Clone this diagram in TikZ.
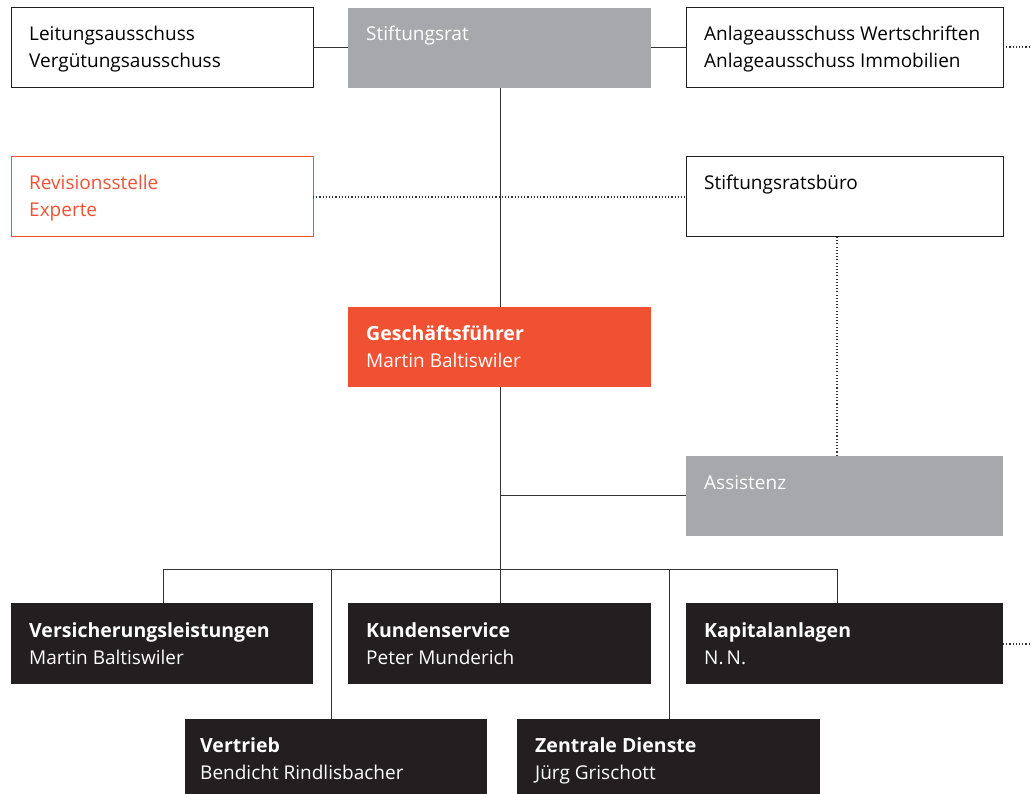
\documentclass[tikz,border=0pt]{standalone}
\usepackage{fontspec}
\setmainfont{Open Sans}
\usetikzlibrary{calc}
\definecolor{orng}{HTML}{F05133}
\definecolor{gry}{HTML}{A7A8AB}
\definecolor{blk}{HTML}{231F20}
\definecolor{lin}{HTML}{333333}
\tikzset{
  box/.style={draw=#1, line width=1pt, anchor=north west, inner sep=0pt, outer sep=0pt},
  fbox/.style={fill=#1, draw=none, anchor=north west, inner sep=0pt, outer sep=0pt},
  txt/.style={anchor=base west, align=left, inner sep=0pt, font=\fontsize{19}{27}\selectfont},
  hd/.style={font=\fontsize{19.5}{27}\selectfont\bfseries},
  conn/.style={draw=lin, line width=1pt},
  dots/.style={draw=lin, line width=1.3pt, dash pattern=on 1.1pt off 2.1pt},
}
\begin{document}
\begin{tikzpicture}[x=1pt,y=-1pt]
\useasboundingbox (0,0) rectangle (1031,794);
% boxes
\node[box=blk, minimum width=302, minimum height=80] (lei) at (11,8) {};
\node[fbox=gry, minimum width=303, minimum height=80] (stf) at (348,8) {};
\node[box=blk, minimum width=317, minimum height=80] (anl) at (686,8) {};
\node[box=orng, minimum width=302, minimum height=80] (rev) at (11,157) {};
\node[box=blk, minimum width=317, minimum height=80] (bur) at (686,157) {};
\node[fbox=orng, minimum width=303, minimum height=80] (gf) at (348,307) {};
\node[fbox=gry, minimum width=317, minimum height=80] (ass) at (686,456) {};
\node[fbox=blk, minimum width=302, minimum height=81] (ver) at (11,603) {};
\node[fbox=blk, minimum width=303, minimum height=81] (kun) at (348,603) {};
\node[fbox=blk, minimum width=317, minimum height=81] (kap) at (686,603) {};
\node[fbox=blk, minimum width=302, minimum height=80] (vtr) at (185,719) {};
\node[fbox=blk, minimum width=303, minimum height=80] (zen) at (517,719) {};
% texts (base anchor = last line baseline)
\node[txt, text=black] (tlei) at ($(lei.north west)+(18,60)$) {Leitungsausschuss\\Vergütungsausschuss};
\node[txt, text=white] (tstf) at ($(stf.north west)+(18,33)$) {Stiftungsrat};
\node[txt, text=black] (tanl) at ($(anl.north west)+(18,60)$) {Anlageausschuss Wertschriften\\Anlageausschuss Immobilien};
\node[txt, text=orng] (trev) at ($(rev.north west)+(18,60)$) {Revisionsstelle\\Experte};
\node[txt, text=black] (tbur) at ($(bur.north west)+(18,33)$) {Stiftungsratsbüro};
\node[txt, text=white] (tgf) at ($(gf.north west)+(18,60)$) {{\fontsize{19.5}{27}\selectfont\bfseries Geschäftsführer}\\Martin Baltiswiler};
\node[txt, text=white] (tass) at ($(ass.north west)+(18,33)$) {Assistenz};
\node[txt, text=white] (tver) at ($(ver.north west)+(18,61)$) {{\fontsize{19.5}{27}\selectfont\bfseries Versicherungsleistungen}\\Martin Baltiswiler};
\node[txt, text=white] (tkun) at ($(kun.north west)+(18,61)$) {{\fontsize{19.5}{27}\selectfont\bfseries Kundenservice}\\Peter Munderich};
\node[txt, text=white] (tkap) at ($(kap.north west)+(18,61)$) {{\fontsize{19.5}{27}\selectfont\bfseries Kapitalanlagen}\\N.\,N.};
\node[txt, text=white] (tvtr) at ($(vtr.north west)+(15,60)$) {{\fontsize{19.5}{27}\selectfont\bfseries Vertrieb}\\Bendicht Rindlisbacher};
\node[txt, text=white] (tzen) at ($(zen.north west)+(18,60)$) {{\fontsize{19.5}{27}\selectfont\bfseries Zentrale Dienste}\\Jürg Grischott};
% coordinates
\coordinate (e1) at (1031,47);
\coordinate (e2) at (1031,644);
\coordinate (xa) at (837,0);
\coordinate (br) at (500,495);
\coordinate (bl) at (163,569);
\coordinate (bm) at (500,569);
\coordinate (bb) at (837,569);
\coordinate (x2) at (331,569);
\coordinate (x4) at (669,569);
% connectors
\draw[conn] (lei.east) -- (stf.west);
\draw[conn] (stf.east) -- (anl.west);
\draw[dots] (anl.east |- e1) -- (e1);
\draw[dots] (kap.east |- e2) -- (e2);
\draw[dots] (rev.east) -- (bur.west);
\draw[dots] (bur.south -| xa) -- (ass.north -| xa);
\draw[conn] (stf.south -| bm) -- (gf.north -| bm);
\draw[conn] (gf.south -| bm) -- (bm);
\draw[conn] (br) -- (ass.west |- br);
\draw[conn] (bl) -- (bb);
\draw[conn] (bl) -- (ver.north -| bl);
\draw[conn] (x2) -- (vtr.north -| x2);
\draw[conn] (bm) -- (kun.north -| bm);
\draw[conn] (x4) -- (zen.north -| x4);
\draw[conn] (bb) -- (kap.north -| bb);
\end{tikzpicture}
\end{document}
